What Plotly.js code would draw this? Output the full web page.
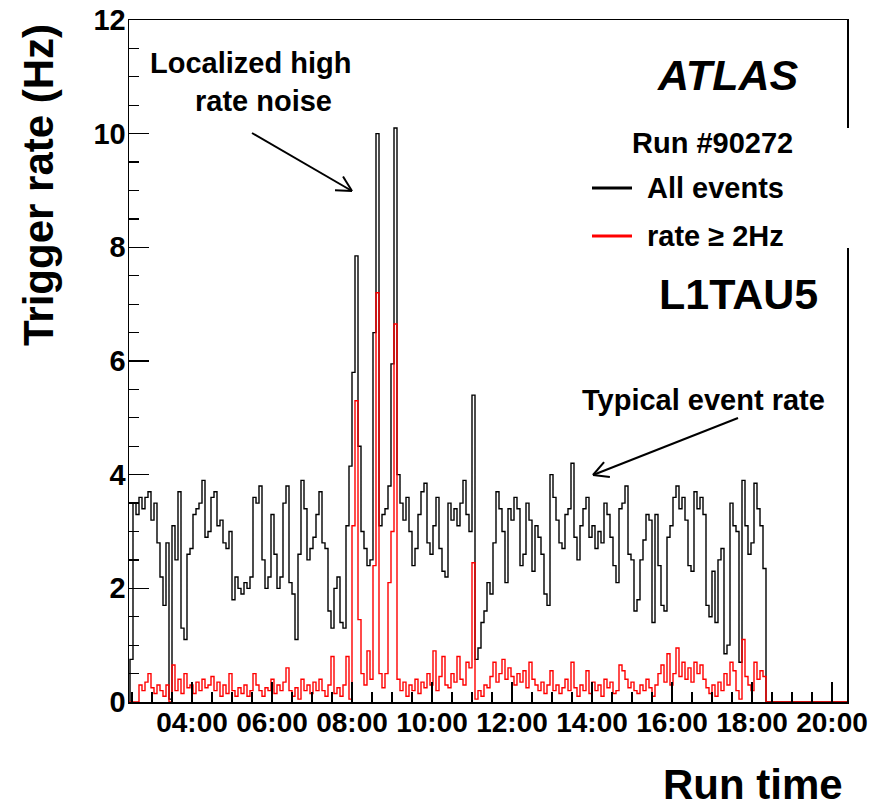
<!DOCTYPE html>
<html><head><meta charset="utf-8">
<script src="https://cdn.plot.ly/plotly-3.0.1.min.js"></script>
<style>html,body{margin:0;padding:0;background:#fff}#chart{width:885px;height:811px}</style>
</head><body><div id="chart"></div>
<script>
// ---- data ----
const runLabel = "Run #90272";
const triggerItem = "L1TAU5";
const seriesNames = ["All events", "rate \u2265 2Hz"];
const runDate = "2008-09-01";
const firstBinMinute = 147;      // 02:27
const binWidthMinutes = 4.5;
const axisStartMinute = 145.5;   // 02:25:30
const axisEndMinute = 1222.5;    // 20:22:30
const yTickValues = [0, 2, 4, 6, 8, 10, 12];

const allEvents = [
 0.75,3.5,3.3,3.6,3.4,3.6,3.7,3.2,3.5,2.8,
 2.2,1.7,2.8,0.05,3.1,2.5,3.7,1.3,1.1,2.6,
 2.7,3.3,3.4,3.5,3.9,2.9,3.0,3.6,3.7,3.1,
 3.2,2.8,2.7,3.0,1.8,2.2,2.0,1.9,2.1,2.0,
 2.2,3.6,3.5,3.8,2.5,2.0,2.2,3.3,2.6,2.0,
 2.2,3.5,3.8,2.1,1.9,1.1,2.6,3.9,3.4,2.5,
 2.7,2.9,3.3,3.7,2.8,2.7,1.6,1.3,2.0,2.2,
 1.4,1.3,3.1,4.15,5.8,7.85,4.5,3.0,2.7,2.4,
 2.5,6.5,10.0,3.1,3.3,3.4,3.8,5.95,10.1,4.0,
 3.5,3.2,3.6,3.0,2.4,2.7,3.3,3.7,3.85,2.8,
 2.6,3.1,3.6,2.7,2.3,2.2,3.5,3.2,3.4,3.1,
 3.5,3.9,3.3,3.0,5.4,0.75,0.95,1.4,1.6,2.1,
 1.9,2.8,3.7,3.4,3.0,2.1,3.4,3.2,3.6,3.4,
 2.4,2.6,3.5,3.2,2.3,3.1,2.9,2.6,1.9,1.7,
 4.0,3.6,3.2,2.8,2.7,3.3,3.4,4.2,2.9,2.5,
 3.1,3.4,3.6,2.9,3.1,2.7,3.0,2.8,3.5,3.3,
 2.9,2.4,2.1,3.4,3.5,3.8,2.6,2.5,1.6,1.8,
 2.5,2.85,3.3,3.2,1.4,3.3,2.4,1.7,1.6,2.9,
 3.1,3.6,3.8,3.4,3.6,3.2,2.4,2.3,3.7,3.4,
 3.6,3.3,1.7,1.5,2.3,1.4,2.5,2.7,0.85,1.0,
 3.5,3.1,3.0,0.7,3.9,3.1,2.6,2.8,3.85,3.4,
 3.1,2.35
];

const highRate = [
 0,0,0,0.3,0.2,0.35,0.5,0.25,0.15,0.3,
 0.2,0.1,0.3,0.0,0.65,0.2,0.4,0.15,0.5,0.25,
 0.3,0.15,0.35,0.2,0.4,0.25,0.3,0.45,0.2,0.35,
 0.1,0.3,0.15,0.5,0.2,0.1,0.25,0.15,0.3,0.1,
 0.2,0.5,0.3,0.2,0.1,0.25,0.2,0.4,0.15,0.3,
 0.2,0.35,0.6,0.2,0.1,0.25,0.05,0.4,0.2,0.3,
 0.15,0.35,0.2,0.4,0.2,0.1,0.3,0.8,0.15,0.25,
 0.1,0.3,0.8,0.05,3.1,5.3,1.45,0.5,0.3,0.9,
 0.4,2.4,7.2,0.5,0.25,0.5,2.1,3.0,6.65,0.4,
 0.2,0.35,0.1,0.3,0.2,0.4,0.15,0.35,0.25,0.5,
 0.3,0.9,0.2,0.45,0.8,0.3,0.25,0.5,0.35,0.8,
 0.4,0.3,0.7,0.6,2.45,0.05,0.2,0.1,0.3,0.25,
 0.45,0.7,0.35,0.5,0.75,0.4,0.6,0.45,0.3,0.5,
 0.35,0.55,0.25,0.7,0.4,0.3,0.2,0.35,0.15,0.3,
 0.55,0.2,0.3,0.15,0.25,0.4,0.2,0.7,0.25,0.1,
 0.3,0.2,0.55,0.15,0.35,0.2,0.3,0.1,0.4,0.25,
 0.35,0.15,0.2,0.65,0.55,0.4,0.25,0.35,0.2,0.15,
 0.3,0.2,0.4,0.25,0.1,0.3,0.5,0.65,0.35,0.85,
 0.3,0.5,0.95,0.45,0.7,0.4,0.6,0.35,0.7,0.5,
 0.65,0.4,0.25,0.15,0.3,0.1,0.35,0.2,0.5,0.3,
 0.7,0.55,0.2,0.05,1.1,0.45,0.3,0.2,0.7,0.4,
 0.55,0.45
];

// ---- helpers ----
function pad(n){return (n<10?"0":"")+n;}
function stamp(min){
  const s = Math.round(min*60);
  const h = Math.floor(s/3600), m = Math.floor((s%3600)/60), sec = s%60;
  return runDate+" "+pad(h)+":"+pad(m)+":"+pad(sec);
}
function stepTrace(vals){
  const xs=[stamp(axisStartMinute)], ys=[0];
  for(let k=0;k<vals.length;k++){ xs.push(stamp(firstBinMinute+k*binWidthMinutes)); ys.push(vals[k]); }
  xs.push(stamp(firstBinMinute+vals.length*binWidthMinutes)); ys.push(0);
  xs.push(stamp(axisEndMinute)); ys.push(0);
  return {xs, ys};
}
const FONT = "Liberation Sans, Arial, Helvetica, sans-serif";
const L=129, R=847, T=20, B=702;
const PX = x => (x-L)/(R-L);
const PY = y => (B-y)/(B-T);

const black = stepTrace(allEvents);
const red = stepTrace(highRate);

const traces = [
  {x: black.xs, y: black.ys, type:"scatter", mode:"lines", name: seriesNames[0],
   line:{color:"#000000", width:1.4, shape:"hv"}, hoverinfo:"skip"},
  {x: red.xs, y: red.ys, type:"scatter", mode:"lines", name: seriesNames[1],
   line:{color:"#ff0000", width:1.4, shape:"hv"}, hoverinfo:"skip"}
];

// arrows
function arrowShapes(tail, tip){
  const dx=tail[0]-tip[0], dy=tail[1]-tip[1], len=Math.hypot(dx,dy);
  const ux=dx/len, uy=dy/len, bl=17, th=28*Math.PI/180;
  const out=[{type:"line", xref:"paper", yref:"paper", x0:PX(tail[0]), y0:PY(tail[1]), x1:PX(tip[0]), y1:PY(tip[1]), line:{color:"#000", width:2}}];
  [th,-th].forEach(a=>{
    const bx=ux*Math.cos(a)-uy*Math.sin(a), by=ux*Math.sin(a)+uy*Math.cos(a);
    out.push({type:"line", xref:"paper", yref:"paper", x0:PX(tip[0]), y0:PY(tip[1]), x1:PX(tip[0]+bx*bl), y1:PY(tip[1]+by*bl), line:{color:"#000", width:2}});
  });
  return out;
}

const shapes = [
  {type:"rect", xref:"paper", yref:"paper", x0:PX(586), x1:PX(856), y0:PY(248), y1:PY(128), fillcolor:"#ffffff", line:{width:0}, layer:"above"},
  {type:"line", xref:"paper", yref:"paper", x0:PX(592), x1:PX(632), y0:PY(188), y1:PY(188), line:{color:"#000000", width:3}, layer:"above"},
  {type:"line", xref:"paper", yref:"paper", x0:PX(592), x1:PX(632), y0:PY(236), y1:PY(236), line:{color:"#ff0000", width:3}, layer:"above"},
  ...arrowShapes([252,133],[352,191]),
  ...arrowShapes([738,418],[593,475])
];

function ann(text, x, y, size, opts){
  return Object.assign({text, xref:"paper", yref:"paper", x:PX(x), y:PY(y), showarrow:false,
    xanchor:"center", yanchor:"middle", font:{family:FONT, size, color:"#000", weight:"bold"}}, opts||{});
}
const annotations = [
  ann("Localized high", 250, 63, 29),
  ann("rate noise", 263, 101, 29),
  ann("Typical event rate", 703, 400, 29),
  ann("ATLAS", 727, 75, 43, {font:{family:FONT, size:43, color:"#000", weight:"bold", style:"italic"}}),
  ann(runLabel, 712, 143, 29),
  ann(seriesNames[0], 645, 188, 29, {xanchor:"left"}),
  ann(seriesNames[1], 645, 236, 29, {xanchor:"left"}),
  ann(triggerItem, 738, 294, 43),
  ann("Trigger rate (Hz)", 38, 185, 42, {textangle:-90}),
  ann("Run time", 845, 785, 42, {xanchor:"right"})
];

const layout = {
  width:885, height:811,
  margin:{l:L, r:885-R, t:T, b:811-B, pad:0},
  paper_bgcolor:"#ffffff", plot_bgcolor:"#ffffff",
  showlegend:false,
  font:{family:FONT, color:"#000"},
  xaxis:{type:"date", range:[stamp(axisStartMinute), stamp(axisEndMinute)],
    tick0: runDate+" 00:00:00", dtick: 7200000, tickformat:"%H:%M",
    ticks:"inside", ticklen:20, tickwidth:1.2, tickcolor:"#000", ticklabelstandoff:-5,
    minor:{dtick:1800000, ticks:"inside", ticklen:10, tickwidth:1.2, tickcolor:"#000", showgrid:false},
    showgrid:false, zeroline:false, showline:true, linecolor:"#000", linewidth:1.5, mirror:true,
    tickfont:{family:FONT, size:28, color:"#000", weight:"bold"}, fixedrange:true},
  yaxis:{range:[0,12], tickvals:yTickValues, ticks:"inside", ticklen:20, tickwidth:1.2, tickcolor:"#000", ticklabelstandoff:-4,
    minor:{dtick:0.5, ticks:"inside", ticklen:10, tickwidth:1.2, tickcolor:"#000", showgrid:false},
    showgrid:false, zeroline:false, showline:true, linecolor:"#000", linewidth:1.5, mirror:true,
    tickfont:{family:FONT, size:29, color:"#000", weight:"bold"}, fixedrange:true},
  shapes, annotations
};

Plotly.newPlot("chart", traces, layout, {staticPlot:true, displayModeBar:false});
</script>
</body></html>
